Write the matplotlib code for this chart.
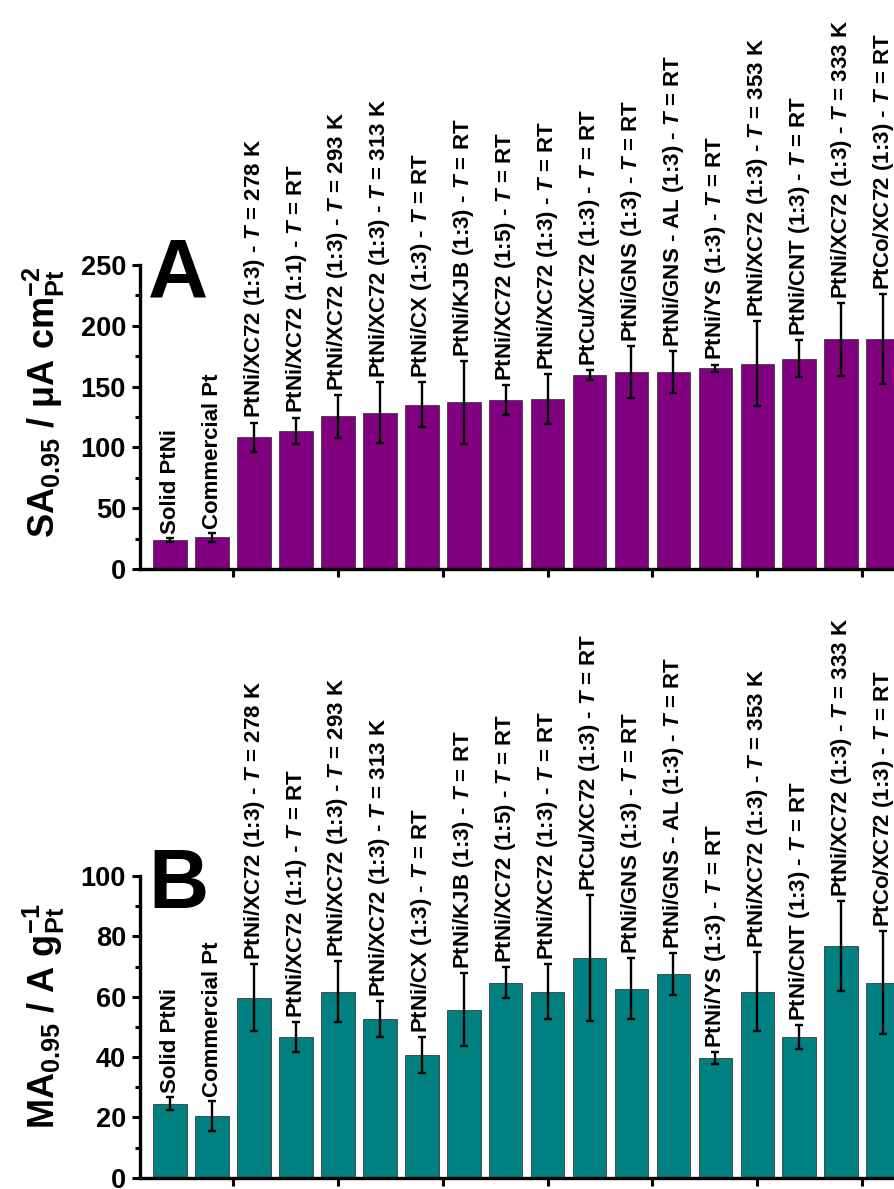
import matplotlib
matplotlib.use('Agg')
import matplotlib.pyplot as plt
import numpy as np
from matplotlib.ticker import MultipleLocator, NullLocator

plt.rcParams['font.family'] = ['Liberation Sans', 'DejaVu Sans']
plt.rcParams['font.weight'] = 'bold'
plt.rcParams['mathtext.fontset'] = 'custom'
plt.rcParams['mathtext.rm'] = 'Liberation Sans:bold'
plt.rcParams['mathtext.it'] = 'Liberation Sans:bold:italic'
plt.rcParams['mathtext.bf'] = 'Liberation Sans:bold'
plt.rcParams['mathtext.default'] = 'rm'

# catalysts and synthesis temperature
materials = ["Solid PtNi", "Commercial Pt", "PtNi/XC72 (1:3)", "PtNi/XC72 (1:1)",
             "PtNi/XC72 (1:3)", "PtNi/XC72 (1:3)", "PtNi/CX (1:3)", "PtNi/KJB (1:3)",
             "PtNi/XC72 (1:5)", "PtNi/XC72 (1:3)", "PtCu/XC72 (1:3)", "PtNi/GNS (1:3)",
             "PtNi/GNS - AL (1:3)", "PtNi/YS (1:3)", "PtNi/XC72 (1:3)", "PtNi/CNT (1:3)",
             "PtNi/XC72 (1:3)", "PtCo/XC72 (1:3)"]
temps = [None, None, "278 K", "RT", "293 K", "313 K", "RT", "RT", "RT", "RT",
         "RT", "RT", "RT", "RT", "353 K", "RT", "333 K", "RT"]

# specific activity (uA cm-2 Pt)
sa = [24, 26, 108.5, 113.5, 125.5, 128.5, 135, 137, 139, 140,
      159.5, 162, 162, 165, 169, 173, 189, 189]
sa_err = [1.5, 3.5, 12, 11, 17.5, 25, 18.5, 34, 12, 20.5,
          4, 21.5, 17.5, 3.2, 35, 15, 30, 37]

# mass activity (A g-1 Pt)
ma = [24.5, 20.5, 59.7, 46.7, 61.7, 52.5, 40.6, 55.7, 64.7, 61.7,
      72.8, 62.7, 67.6, 39.6, 61.7, 46.7, 76.8, 64.7]
ma_err = [2.2, 5, 11, 5, 10, 6, 6, 12, 5, 9,
          21, 10, 7, 2, 13, 4, 15, 17]

labels = []
for m, t in zip(materials, temps):
    if t is None:
        labels.append(m)
    else:
        labels.append(m + r" - $\mathit{T}$ = " + t)


def panel(ax, vals, errs, color, ymax, ystep, letter, ylabel, lab_y):
    x = np.arange(1, len(vals) + 1)
    ax.bar(x, vals, width=0.8, color=color, edgecolor='#3a3a3a', linewidth=0.6, zorder=2)
    ax.errorbar(x, vals, yerr=errs, fmt='none', ecolor='black', elinewidth=1.7,
                capsize=3, capthick=1.7, zorder=3)
    for xi, v, e, lab in zip(x, vals, errs, labels):
        ax.annotate(lab, (xi, v + e), xytext=(0, 3), textcoords='offset points',
                    rotation=90, ha='center', va='bottom', fontsize=16,
                    fontweight='bold', annotation_clip=False)

    ax.set_xlim(0.28, 18.26)
    ax.set_ylim(0, ymax)
    ax.set_xticks(np.arange(2.5, 18.3, 2.5))
    ax.set_xticklabels([])
    ax.xaxis.set_minor_locator(NullLocator())
    ax.yaxis.set_major_locator(MultipleLocator(ystep))
    ax.yaxis.set_minor_locator(MultipleLocator(ystep / 2))
    ax.tick_params(axis='both', which='major', direction='out', length=6, width=2.2,
                   labelsize=19.5, pad=4)
    ax.tick_params(axis='y', which='minor', direction='out', length=3.5, width=2.2)
    for s in ['top', 'right']:
        ax.spines[s].set_visible(False)
    for s in ['left', 'bottom']:
        ax.spines[s].set_linewidth(2.4)

    ax.text(0.011, 0.893, letter, transform=ax.transAxes, fontsize=60,
            fontweight='bold', ha='left', va='baseline')
    ax.set_ylabel(ylabel, fontsize=26, fontweight='bold')
    ax.yaxis.set_label_coords(-0.097, lab_y)


fig = plt.figure(figsize=(8.94, 11.89), dpi=100)
axA = fig.add_axes([0.1566, 0.5214, 0.8434, 0.2557])
axB = fig.add_axes([0.1566, 0.0095, 0.8434, 0.2537])

panel(axA, sa, sa_err, '#800080', 250, 50, 'A',
      r"SA$_{0.95}$ / μA $\mathrm{cm}^{-2}_{\mathrm{Pt}}$", 0.55)
panel(axB, ma, ma_err, '#008080', 100, 20, 'B',
      r"MA$_{0.95}$ / A $\mathrm{g}^{-1}_{\mathrm{Pt}}$", 0.535)

fig.savefig('out.png', dpi=100)
